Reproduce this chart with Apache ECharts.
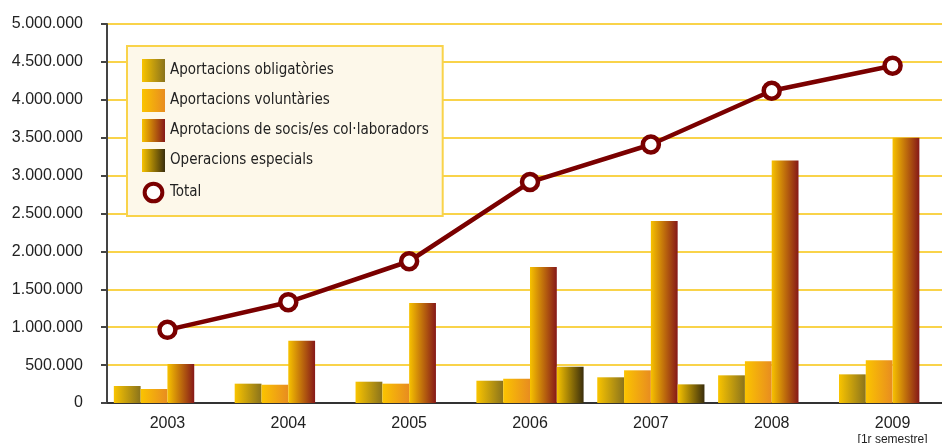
<!DOCTYPE html>
<html><head><meta charset="utf-8">
<script src="https://cdn.jsdelivr.net/npm/echarts@6/dist/echarts.min.js"></script>
<style>html,body{margin:0;padding:0;background:#fff}#c{width:942px;height:443px}</style>
</head><body><div id="c"></div>
<script>
const categories = ['2003','2004','2005','2006','2007','2008','2009'];
const obligatories = [224000, 255000, 281000, 294000, 339000, 365000, 378000];
const voluntaries = [185000, 241000, 255000, 320000, 431000, 550000, 563000];
const socis = [515000, 822000, 1320000, 1795000, 2400000, 3200000, 3500000];
const especials = [null, null, null, 479000, 246000, null, null];
const total = [965000, 1330000, 1870000, 2915000, 3410000, 4120000, 4450000];
const seriesNames = ['Aportacions obligatòries','Aportacions voluntàries','Aprotacions de socis/es col·laboradors','Operacions especials','Total'];

const grad = (a,b) => new echarts.graphic.LinearGradient(0,0,1,0,[{offset:0,color:a},{offset:1,color:b}]);
const fmt = v => String(v).replace(/\B(?=(\d{3})+(?!\d))/g,'.');
const chart = echarts.init(document.getElementById('c'));
const barBase = {type:'bar', barWidth:26.8, barGap:'0%', barCategoryGap:'11%'};
const axisFont = 'Liberation Sans, Arial, sans-serif';
chart.setOption({
  animation:false,
  textStyle:{fontFamily:axisFont},
  grid:{left:107, top:24, bottom:40, right:-11, outerBoundsMode:'none', containLabel:false},
  legend:{
    orient:'vertical', left:127, top:46,
    padding:[13,14,10,13],
    backgroundColor:'#fdf8ea', borderColor:'#f9d34a', borderWidth:2,
    itemWidth:23, itemHeight:23, itemGap:7,
    textStyle:{fontFamily:'DejaVu Sans Condensed, sans-serif', fontSize:15, color:'#222'},
    data:[
      {name:seriesNames[0], icon:'rect'},{name:seriesNames[1], icon:'rect'},
      {name:seriesNames[2], icon:'rect'},{name:seriesNames[3], icon:'rect'},
      {name:seriesNames[4], icon:'path://M0,0M26,26M13,3A10,10,0,1,1,12.99,3Z',
       itemStyle:{color:'#fff', borderColor:'#7a0000', borderWidth:4}}
    ]
  },
  xAxis:{
    type:'category', data:categories,
    axisLine:{lineStyle:{color:'#333', width:2}},
    axisTick:{length:8, lineStyle:{color:'#555', width:2}},
    axisLabel:{interval:0, fontFamily:axisFont, fontSize:16, color:'#222', margin:13,
      formatter: v => v==='2009' ? v+'\n{s|[1r semestre]}' : v,
      rich:{s:{fontFamily:axisFont, fontSize:12, color:'#222', lineHeight:16}}}
  },
  yAxis:{
    type:'value', min:0, max:5000000, interval:500000,
    axisLine:{show:true, lineStyle:{color:'#444', width:2}},
    axisTick:{show:true, length:6, lineStyle:{color:'#444', width:2}},
    axisLabel:{fontFamily:axisFont, fontSize:16, color:'#222', margin:24, formatter:fmt},
    splitLine:{lineStyle:{color:'#f9d34a', width:2}}
  },
  series:[
    Object.assign({name:seriesNames[0], data:obligatories, itemStyle:{color:grad('#f9c400','#8a731c')}}, barBase),
    Object.assign({name:seriesNames[1], data:voluntaries, itemStyle:{color:grad('#fbc400','#e88c20')}}, barBase),
    Object.assign({name:seriesNames[2], data:socis, itemStyle:{color:grad('#f7c200','#861818')}}, barBase),
    Object.assign({name:seriesNames[3], data:especials, itemStyle:{color:grad('#f7c300','#3a2e0c')}}, barBase),
    {name:seriesNames[4], type:'line', data:total, z:5, symbol:'circle', symbolSize:16,
     lineStyle:{color:'#7a0000', width:4.5},
     itemStyle:{color:'#fff', borderColor:'#7a0000', borderWidth:4.5}}
  ]
});
</script></body></html>
